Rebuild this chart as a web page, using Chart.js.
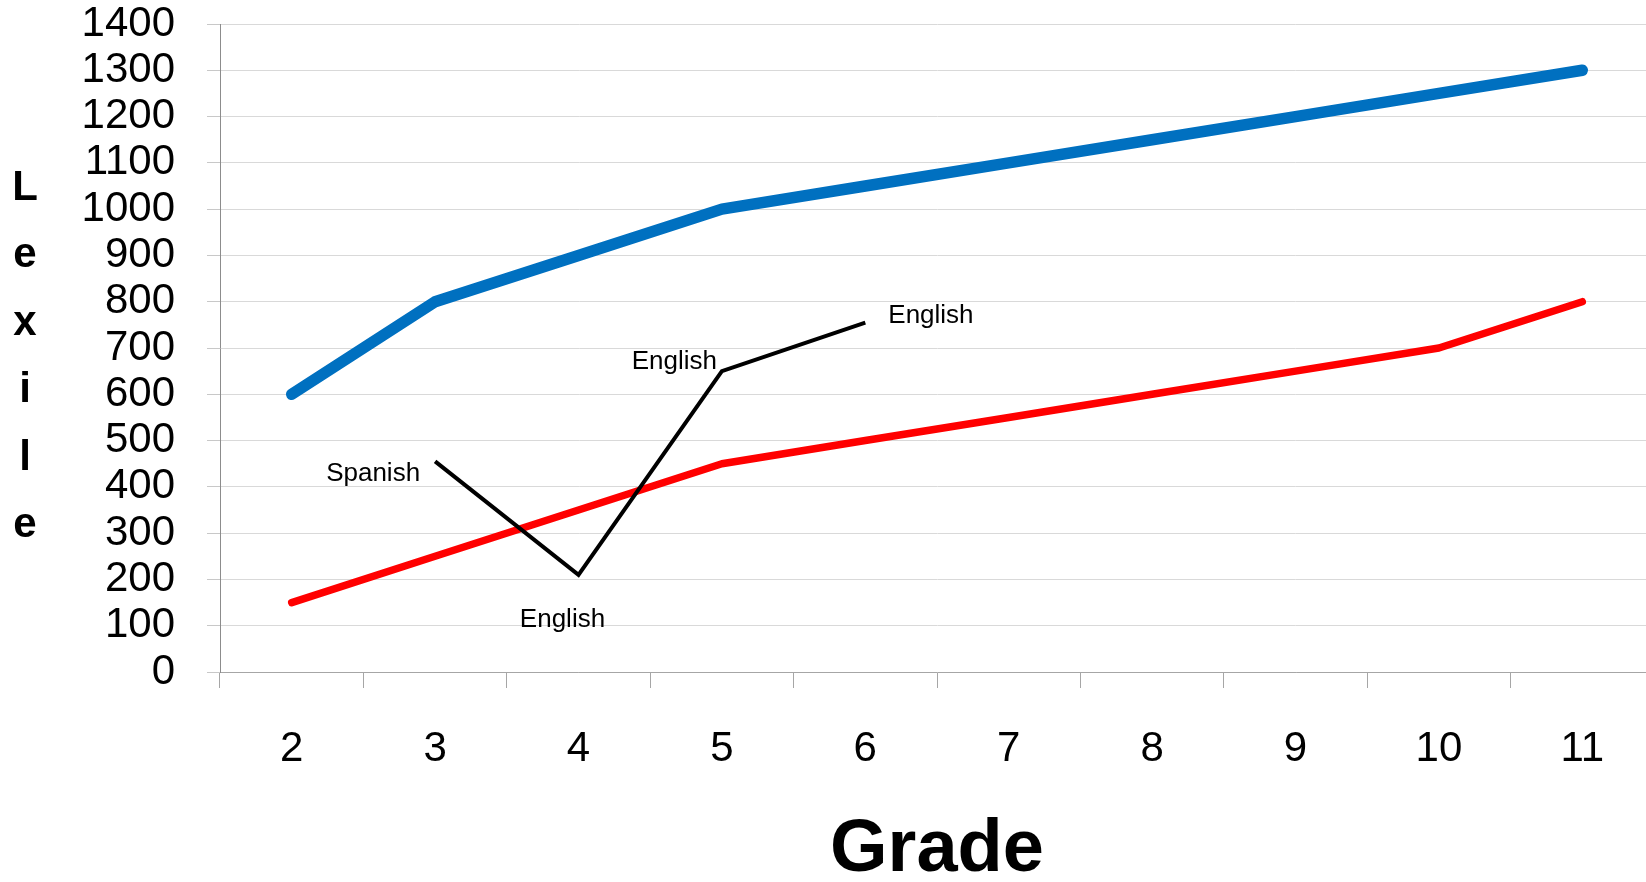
<!DOCTYPE html>
<html><head><meta charset="utf-8">
<script src="https://cdn.jsdelivr.net/npm/chart.js@4.4.1/dist/chart.umd.min.js"></script>
<style>
html,body{margin:0;padding:0;background:#fff;overflow:hidden;width:1646px;height:882px}
#wrap{position:absolute;left:0;top:0;width:1660px;height:882px}
</style>
</head><body><div id="wrap"><canvas id="c" width="1660" height="882"></canvas></div>
<script>
// ---- data ----
const grades = ['2','3','4','5','6','7','8','9','10','11'];
const upperLexile = [600, 800, 900, 1000, 1050, 1100, 1150, 1200, 1250, 1300];
const lowerLexile = [150, 250, 350, 450, 500, 550, 600, 650, 700, 800];
const studentLexile = [null, 455, 210, 650, 755, null, null, null, null, null];
const studentLabels = [null, 'Spanish', 'English', 'English', 'English', null, null, null, null, null];
const yMin = 0, yMax = 1400, yStep = 100;
const xTitle = 'Grade';
const yTitle = 'Lexile';

const FONT = "'Liberation Sans', Arial, sans-serif";

// placement of the student-line labels relative to their points
const labelPlacement = {
  1: {align: 'right', dx: -15, dy: 20},
  2: {align: 'center', dx: -16, dy: 52},
  3: {align: 'right', dx: -5, dy: -2},
  4: {align: 'left', dx: 23, dy: 0}
};

const annotatePlugin = {
  id: 'annotate',
  afterDatasetsDraw(chart) {
    const ctx = chart.ctx;
    const meta = chart.getDatasetMeta(0);
    ctx.save();
    ctx.font = "26px " + FONT;
    ctx.fillStyle = '#000';
    ctx.textBaseline = 'alphabetic';
    studentLabels.forEach((txt, i) => {
      if (!txt) return;
      const p = meta.data[i];
      const pl = labelPlacement[i] || {align: 'left', dx: 5, dy: 0};
      ctx.textAlign = pl.align;
      ctx.fillText(txt, p.x + pl.dx, p.y + pl.dy);
    });
    ctx.restore();
  },
  afterDraw(chart) {
    // vertical stacked y-axis title
    const ctx = chart.ctx;
    ctx.save();
    ctx.font = "bold 42px " + FONT;
    ctx.fillStyle = '#000';
    ctx.textAlign = 'center';
    ctx.textBaseline = 'alphabetic';
    yTitle.split('').forEach((ch, i) => {
      ctx.fillText(ch, 25, 200 + i * 67.4);
    });
    ctx.restore();
  }
};

new Chart(document.getElementById('c'), {
  type: 'line',
  data: {
    labels: grades,
    datasets: [
      {label: 'Student', data: studentLexile, borderColor: '#000000', borderWidth: 4,
       pointRadius: 0, tension: 0, spanGaps: false, order: 0,
       borderCapStyle: 'butt', borderJoinStyle: 'miter'},
      {label: 'Lower', data: lowerLexile, borderColor: '#FF0000', borderWidth: 7.5,
       pointRadius: 0, tension: 0, order: 1, borderCapStyle: 'round', borderJoinStyle: 'round'},
      {label: 'Upper', data: upperLexile, borderColor: '#0070C0', borderWidth: 11.5,
       pointRadius: 0, tension: 0, order: 2, borderCapStyle: 'round', borderJoinStyle: 'round'}
    ]
  },
  options: {
    responsive: false,
    animation: false,
    devicePixelRatio: 1,
    layout: {padding: {top: 24, right: 6, left: 0, bottom: 0}},
    plugins: {legend: {display: false}, tooltip: {enabled: false}},
    scales: {
      x: {
        offset: true,
        grid: {offset: true, drawOnChartArea: false, drawTicks: true, tickLength: 16, color: '#a6a6a6', lineWidth: 1},
        border: {display: true, color: '#a6a6a6', width: 1},
        ticks: {font: {family: FONT, size: 42}, color: '#000', padding: 36, autoSkip: false, maxRotation: 0},
        title: {display: true, text: xTitle, color: '#000',
                font: {family: FONT, size: 74, weight: 'bold', lineHeight: 0.85}, padding: 0},
        afterFit(scale) { scale.height = 210; scale.paddingLeft = 0; scale.paddingRight = 0; }
      },
      y: {
        min: yMin, max: yMax,
        grid: {color: '#d9d9d9', tickColor: '#c8c8c8', tickLength: 13, lineWidth: 1},
        border: {display: true, color: '#8c8c8c', width: 1},
        ticks: {stepSize: yStep, maxTicksLimit: 30, autoSkip: false,
                callback: (v) => String(v),
                font: {family: FONT, size: 42, lineHeight: 1.1}, color: '#000', padding: 32},
        afterFit(scale) { scale.width = 220; scale.paddingTop = 0; scale.paddingBottom = 0; }
      }
    }
  },
  plugins: [annotatePlugin]
});
</script>
</body></html>
